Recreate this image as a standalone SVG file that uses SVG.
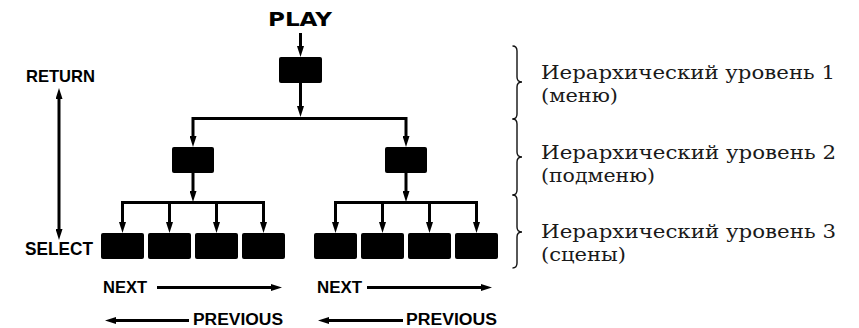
<svg xmlns="http://www.w3.org/2000/svg" width="859" height="328" viewBox="0 0 859 328">
<style>
.box{fill:#000}
.ln{fill:none;stroke:#000;stroke-width:3}
.ar{marker-end:url(#ah)}
.ar2{marker-start:url(#ah);marker-end:url(#ah)}
.br{fill:none;stroke:#111;stroke-width:1.4}
.lab{font-family:"Liberation Sans",Arial,sans-serif;font-weight:bold;fill:#000}
.play{font-family:"DejaVu Sans","Liberation Sans",sans-serif;font-weight:bold;fill:#000;font-size:19px}
.ru{font-family:"DejaVu Serif","Liberation Serif",serif;font-size:18.5px;fill:#1a1a1a}
</style>
<defs>
<marker id="ah" viewBox="0 0 11 7" markerWidth="11" markerHeight="7" refX="4" refY="3.5" orient="auto-start-reverse" markerUnits="userSpaceOnUse">
<path d="M0,0 L11,3.5 L0,7 z" fill="#000"/>
</marker>
</defs>

<g id="connectors">
<line class="ln ar" x1="300.5" y1="33" x2="300.5" y2="50"/>
<line class="ln ar" x1="300.5" y1="83" x2="300.5" y2="110"/>
<path class="ln ar2" d="M193,140 V118.5 H406 V140"/>
<line class="ln ar" x1="193" y1="173" x2="193" y2="195"/>
<path class="ln ar2" d="M122.5,226 V202.5 H263.5 V226"/>
<line class="ln ar" x1="169.5" y1="202.5" x2="169.5" y2="226"/>
<line class="ln ar" x1="216.5" y1="202.5" x2="216.5" y2="226"/>
<line class="ln ar" x1="406" y1="173" x2="406" y2="195"/>
<path class="ln ar2" d="M335.5,226 V202.5 H476.5 V226"/>
<line class="ln ar" x1="382.5" y1="202.5" x2="382.5" y2="226"/>
<line class="ln ar" x1="429.5" y1="202.5" x2="429.5" y2="226"/>
<line class="ln ar2" x1="59" y1="95" x2="59" y2="233"/>
<line class="ln ar" x1="157" y1="287.5" x2="275" y2="287.5"/>
<line class="ln ar" x1="189" y1="320.5" x2="112" y2="320.5"/>
<line class="ln ar" x1="367" y1="287.5" x2="485" y2="287.5"/>
<line class="ln ar" x1="403" y1="320.5" x2="325" y2="320.5"/>
</g>

<g id="n-top"><rect class="box" x="279" y="57" width="43" height="26" rx="2"/></g>
<g id="n-sub1"><rect class="box" x="172" y="147" width="42" height="26" rx="2"/></g>
<g id="n-sub2"><rect class="box" x="385" y="147" width="42" height="26" rx="2"/></g>
<g id="n-s1"><rect class="box" x="101" y="233" width="43" height="26" rx="2"/></g>
<g id="n-s2"><rect class="box" x="148" y="233" width="43" height="26" rx="2"/></g>
<g id="n-s3"><rect class="box" x="195" y="233" width="43" height="26" rx="2"/></g>
<g id="n-s4"><rect class="box" x="242" y="233" width="43" height="26" rx="2"/></g>
<g id="n-s5"><rect class="box" x="314" y="233" width="43" height="26" rx="2"/></g>
<g id="n-s6"><rect class="box" x="361" y="233" width="43" height="26" rx="2"/></g>
<g id="n-s7"><rect class="box" x="408" y="233" width="43" height="26" rx="2"/></g>
<g id="n-s8"><rect class="box" x="455" y="233" width="43" height="26" rx="2"/></g>

<g id="labels">
<text class="play" x="268" y="26" textLength="64" lengthAdjust="spacingAndGlyphs">PLAY</text>
<text class="lab" x="26" y="82" font-size="17" textLength="69" lengthAdjust="spacingAndGlyphs">RETURN</text>
<text class="lab" x="25" y="255" font-size="17.5" textLength="68" lengthAdjust="spacingAndGlyphs">SELECT</text>
<text class="lab" x="103" y="293" font-size="16.5" textLength="44" lengthAdjust="spacingAndGlyphs">NEXT</text>
<text class="lab" x="193" y="325" font-size="16" textLength="90" lengthAdjust="spacingAndGlyphs">PREVIOUS</text>
<text class="lab" x="317" y="293" font-size="16.5" textLength="45" lengthAdjust="spacingAndGlyphs">NEXT</text>
<text class="lab" x="406" y="325" font-size="16" textLength="91" lengthAdjust="spacingAndGlyphs">PREVIOUS</text>
</g>

<g id="levels">
<path class="br" d="M512.5,46 Q517,46 517,51 V77 Q517,82 522,82 Q517,82 517,87 V114 Q517,119 512.5,119"/>
<path class="br" d="M512.5,119 Q517,119 517,124 V152 Q517,157 522,157 Q517,157 517,162 V190 Q517,195 512.5,195"/>
<path class="br" d="M512.5,195 Q517,195 517,200 V227 Q517,232 522,232 Q517,232 517,237 V263 Q517,268 512.5,268"/>
<text class="ru" x="541" y="79" textLength="294" lengthAdjust="spacingAndGlyphs">Иерархический уровень 1</text>
<text class="ru" x="541" y="102" textLength="77" lengthAdjust="spacingAndGlyphs">(меню)</text>
<text class="ru" x="541" y="159" textLength="295" lengthAdjust="spacingAndGlyphs">Иерархический уровень 2</text>
<text class="ru" x="541" y="182" textLength="114" lengthAdjust="spacingAndGlyphs">(подменю)</text>
<text class="ru" x="541" y="238" textLength="295" lengthAdjust="spacingAndGlyphs">Иерархический уровень 3</text>
<text class="ru" x="541" y="261" textLength="85" lengthAdjust="spacingAndGlyphs">(сцены)</text>
</g>
</svg>
